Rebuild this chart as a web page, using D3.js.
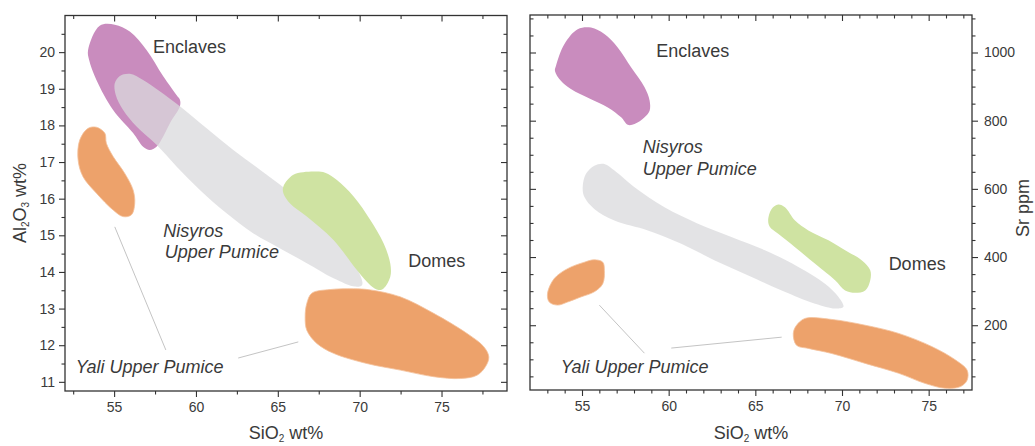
<!DOCTYPE html>
<html>
<head>
<meta charset="utf-8">
<script src="https://cdn.jsdelivr.net/npm/d3@7"></script>
<style>
  html, body { margin: 0; padding: 0; background: #fff; }
  svg { display: block; font-family: "Liberation Sans", Arial, sans-serif; }
</style>
</head>
<body>
<svg id="chart" width="1035" height="446"></svg>
<script>
// ---------- DATA ----------
const siO2Ticks = [55, 60, 65, 70, 75];
const al2o3Ticks = [11, 12, 13, 14, 15, 16, 17, 18, 19, 20];
const srTicks = [200, 400, 600, 800, 1000];

// Field outlines: [SiO2 wt%, Al2O3 wt%]
const alEnclaves = [[53.41,20.06],[54.12,20.72],[55.04,20.75],[55.96,20.56],[56.98,20.06],[58.0,19.34],[58.81,18.83],[59.02,18.70],[59.02,18.52],[58.41,18.06],[58.0,17.70],[57.59,17.42],[57.18,17.33],[56.77,17.42],[56.16,17.79],[54.94,18.42],[53.92,19.24],[53.47,19.79]];
const alNisyros = [[55.04,19.15],[55.35,19.35],[55.96,19.41],[56.77,19.24],[57.79,18.93],[59.02,18.52],[60.65,17.92],[62.28,17.33],[63.91,16.79],[65.55,16.24],[67.18,15.60],[68.61,14.87],[69.63,14.24],[70.14,13.78],[70.14,13.64],[69.73,13.60],[68.40,13.83],[66.77,14.24],[65.14,14.64],[63.51,15.05],[61.87,15.60],[60.24,16.24],[58.81,16.88],[57.59,17.47],[56.37,17.97],[55.55,18.42],[55.10,18.83]];
const alDomes = [[65.34,16.33],[65.95,16.65],[67.18,16.74],[67.89,16.71],[68.61,16.51],[69.63,16.06],[70.65,15.42],[71.46,14.78],[71.87,14.23],[71.87,13.87],[71.46,13.55],[71.16,13.51],[70.65,13.64],[69.83,14.05],[68.40,14.87],[66.77,15.51],[65.75,15.87],[65.34,16.15]];
const alYaliMain = [[67.08,13.42],[68.20,13.52],[69.63,13.54],[70.65,13.51],[72.48,13.32],[74.52,12.87],[76.56,12.32],[77.58,11.96],[77.89,11.68],[77.68,11.41],[77.17,11.18],[76.15,11.09],[74.52,11.14],[72.48,11.32],[70.44,11.50],[68.40,11.78],[67.38,12.05],[66.77,12.41],[66.67,12.78],[66.77,13.14]];
const alYaliSmall = [[52.90,17.60],[53.41,17.92],[53.92,17.95],[54.43,17.79],[54.53,17.51],[54.94,17.15],[55.65,16.69],[56.16,16.24],[56.26,15.87],[56.06,15.56],[55.55,15.51],[54.94,15.69],[53.92,16.15],[53.10,16.60],[52.80,17.06]];

// Field outlines: [SiO2 wt%, Sr ppm]
const srEnclaves = [[53.50,961],[53.98,1024],[54.75,1068],[55.52,1073],[56.29,1054],[57.06,1015],[57.84,956],[58.61,898],[58.90,859],[58.90,829],[58.61,810],[58.03,790],[57.64,788],[57.26,810],[56.49,839],[55.52,863],[54.36,893],[53.78,917],[53.44,946]];
const srNisyros = [[55.04,605],[55.23,644],[55.71,668],[56.29,673],[56.87,654],[58.03,605],[59.76,546],[61.69,498],[63.62,459],[65.55,420],[67.48,371],[69.02,322],[69.80,283],[70.08,254],[69.60,249],[68.45,263],[66.52,302],[64.59,346],[62.66,390],[60.73,439],[58.80,478],[56.87,507],[55.71,541],[55.14,576]];
const srDomes = [[65.74,507],[65.94,541],[66.32,554],[66.71,546],[67.29,507],[68.06,478],[69.22,449],[70.18,420],[71.15,390],[71.63,361],[71.63,332],[71.34,302],[70.76,295],[70.18,302],[69.60,332],[68.45,380],[67.29,429],[66.32,468],[65.84,488]];
const srYaliSmall = [[53.01,293],[53.40,337],[54.17,366],[55.14,385],[55.71,392],[56.20,385],[56.29,361],[56.20,322],[55.71,298],[54.94,283],[54.17,268],[53.59,259],[53.11,268]];
const srYaliMain = [[67.38,200],[67.87,220],[69.41,217],[71.34,200],[73.27,176],[75.20,137],[76.55,98],[77.22,68],[77.22,39],[76.84,20],[75.97,15],[74.81,29],[73.27,59],[71.34,88],[69.41,117],[68.06,132],[67.38,141],[67.19,176]];

// Labels: [text, SiO2, value, italic]
const alLabels = [["Enclaves",57.37,19.98,false],["Nisyros",58.0,14.95,true],["Upper Pumice",58.1,14.38,true],["Domes",72.97,14.13,false],["Yali Upper Pumice",52.66,11.24,true]];
const srLabels = [["Enclaves",59.28,987,false],["Nisyros",58.51,705,true],["Upper Pumice",58.51,641,true],["Domes",72.69,362,false],["Yali Upper Pumice",53.78,60,true]];
// Leader lines: [[x1,y1],[x2,y2]]
const alLeaders = [[[55.04,15.23],[58.16,11.87]],[[62.58,11.65],[66.25,12.09]]];
const srLeaders = [[[56.0,259],[58.6,118]],[[60.15,133],[66.52,165]]];

// ---------- DRAW ----------
const svg = d3.select("#chart");
const colors = { enclaves: "#c98cbe", nisyros: "#dadadc", domes: "#cfe3a2", yali: "#eda26b" };
const txt = "#3a3a3a";

function range(a, b, s) { const r = []; for (let v = a; v <= b + 1e-9; v += s) r.push(+v.toFixed(4)); return r; }

function panel(cfg) {
  const g = svg.append("g");
  const x = d3.scaleLinear(cfg.xDomain, [cfg.left, cfg.right]);
  const y = d3.scaleLinear(cfg.yDomain, [cfg.bottom, cfg.top]);
  const line = d3.line().x(d => x(d[0])).y(d => y(d[1])).curve(d3.curveCatmullRomClosed.alpha(0.5));

  const fields = [
    [cfg.enclaves, colors.enclaves, 1],
    [cfg.nisyros, colors.nisyros, 0.75],
    [cfg.domes, colors.domes, 1],
    [cfg.yaliSmall, colors.yali, 1],
    [cfg.yaliMain, colors.yali, 1]
  ];
  g.selectAll("path.field").data(fields).join("path")
    .attr("class", "field")
    .attr("d", d => line(d[0]))
    .attr("fill", d => d[1])
    .attr("fill-opacity", d => d[2])
    .attr("stroke", d => d[1] === colors.yali ? "#f4c29c" : "none")
    .attr("stroke-width", 0.8);

  g.selectAll("line.leader").data(cfg.leaders).join("line")
    .attr("class", "leader")
    .attr("x1", d => x(d[0][0])).attr("y1", d => y(d[0][1]))
    .attr("x2", d => x(d[1][0])).attr("y2", d => y(d[1][1]))
    .attr("stroke", "#c4c4c4").attr("stroke-width", 1);

  g.selectAll("text.lab").data(cfg.labels).join("text")
    .attr("class", "lab")
    .attr("x", d => x(d[1])).attr("y", d => y(d[2]))
    .attr("font-size", 18)
    .attr("font-style", d => d[3] ? "italic" : "normal")
    .attr("fill", txt)
    .text(d => d[0]);

  // frame
  g.append("rect")
    .attr("x", cfg.left).attr("y", cfg.top)
    .attr("width", cfg.right - cfg.left).attr("height", cfg.bottom - cfg.top)
    .attr("fill", "none").attr("stroke", "#333").attr("stroke-width", 1.3);

  function axisG(gen, tx, ty) {
    const a = g.append("g").attr("transform", `translate(${tx},${ty})`).call(gen);
    a.select(".domain").remove();
    a.selectAll("line").attr("stroke", "#333").attr("stroke-width", 1.1);
    a.selectAll("text").attr("fill", txt).attr("font-size", 14).attr("font-family", "Liberation Sans, Arial, sans-serif");
    return a;
  }
  const MAJ = 6, MIN = 3.5;
  const fmt = d3.format("d");
  const xMinor = cfg.xMinor.filter(v => !cfg.xTicks.includes(v));
  const yMinor = cfg.yMinor.filter(v => !cfg.yTicks.includes(v));
  // bottom (outward, labelled)
  axisG(d3.axisBottom(x).tickValues(cfg.xTicks).tickSize(MAJ).tickPadding(5).tickFormat(fmt), 0, cfg.bottom);
  axisG(d3.axisBottom(x).tickValues(xMinor).tickSize(MIN).tickFormat(""), 0, cfg.bottom);
  // top (inward)
  axisG(d3.axisBottom(x).tickValues(cfg.xTicks).tickSize(MAJ).tickFormat(""), 0, cfg.top);
  axisG(d3.axisBottom(x).tickValues(xMinor).tickSize(MIN).tickFormat(""), 0, cfg.top);

  if (cfg.yOnLeft) {
    axisG(d3.axisLeft(y).tickValues(cfg.yTicks).tickSize(MAJ).tickPadding(4).tickFormat(fmt), cfg.left, 0);
    axisG(d3.axisLeft(y).tickValues(yMinor).tickSize(MIN).tickFormat(""), cfg.left, 0);
    axisG(d3.axisLeft(y).tickValues(cfg.yTicks).tickSize(MAJ).tickFormat(""), cfg.right, 0);
    axisG(d3.axisLeft(y).tickValues(yMinor).tickSize(MIN).tickFormat(""), cfg.right, 0);
  } else {
    axisG(d3.axisRight(y).tickValues(cfg.yTicks).tickSize(MAJ).tickPadding(6).tickFormat(fmt), cfg.right, 0);
    axisG(d3.axisRight(y).tickValues(yMinor).tickSize(MIN).tickFormat(""), cfg.right, 0);
    axisG(d3.axisRight(y).tickValues(cfg.yTicks).tickSize(MAJ).tickFormat(""), cfg.left, 0);
    axisG(d3.axisRight(y).tickValues(yMinor).tickSize(MIN).tickFormat(""), cfg.left, 0);
  }

  // x title
  const xt = g.append("text")
    .attr("x", (cfg.left + cfg.right) / 2).attr("y", 439)
    .attr("text-anchor", "middle").attr("font-size", 18).attr("fill", txt);
  xt.append("tspan").text("SiO");
  xt.append("tspan").attr("font-size", 10).attr("dy", 3).text("2");
  xt.append("tspan").attr("dy", -3).text(" wt%");

  return { x, y, g };
}

panel({
  left: 65, right: 507, top: 15.5, bottom: 391,
  xDomain: [52, 79], yDomain: [10.75, 21],
  xTicks: siO2Ticks, xMinor: range(52.5, 77.5, 2.5),
  yTicks: al2o3Ticks, yMinor: range(11, 20.5, 0.5),
  yOnLeft: true,
  enclaves: alEnclaves, nisyros: alNisyros, domes: alDomes, yaliSmall: alYaliSmall, yaliMain: alYaliMain,
  labels: alLabels, leaders: alLeaders
});

panel({
  left: 530, right: 972, top: 15, bottom: 390,
  xDomain: [52, 77.5], yDomain: [10, 1110],
  xTicks: siO2Ticks, xMinor: range(53, 77, 1),
  yTicks: srTicks, yMinor: range(50, 1100, 50),
  yOnLeft: false,
  enclaves: srEnclaves, nisyros: srNisyros, domes: srDomes, yaliSmall: srYaliSmall, yaliMain: srYaliMain,
  labels: srLabels, leaders: srLeaders
});

// y titles
const yl = svg.append("text")
  .attr("transform", "translate(26,203) rotate(-90)")
  .attr("text-anchor", "middle").attr("font-size", 18).attr("fill", txt);
yl.append("tspan").text("Al");
yl.append("tspan").attr("font-size", 10).attr("dy", 3).text("2");
yl.append("tspan").attr("dy", -3).text("O");
yl.append("tspan").attr("font-size", 10).attr("dy", 3).text("3");
yl.append("tspan").attr("dy", -3).text(" wt%");

svg.append("text")
  .attr("transform", "translate(1029,208) rotate(-90)")
  .attr("text-anchor", "middle").attr("font-size", 18).attr("fill", txt)
  .text("Sr ppm");
</script>
</body>
</html>
